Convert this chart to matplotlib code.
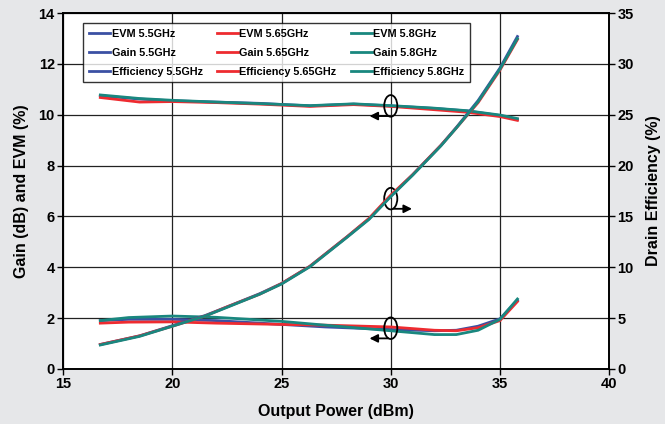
import matplotlib.pyplot as plt
from matplotlib.patches import Ellipse

plt.rcParams['font.family'] = ['Liberation Sans', 'DejaVu Sans']
plt.rcParams['font.weight'] = 'bold'

freqs = ['5.5GHz', '5.65GHz', '5.8GHz']
colors = ['#3b50a3', '#ee2b30', '#19877f']

# Gain (dB)
gain_x = [16.7, 18.5, 20, 22, 24, 26.3, 28.3, 30, 32, 33.5, 35, 35.8]
gain = [
    [10.75, 10.62, 10.55, 10.5, 10.45, 10.35, 10.42, 10.35, 10.25, 10.15, 9.97, 9.82],
    [10.68, 10.5, 10.52, 10.48, 10.42, 10.33, 10.4, 10.33, 10.2, 10.1, 9.93, 9.78],
    [10.78, 10.64, 10.57, 10.5, 10.44, 10.36, 10.43, 10.36, 10.26, 10.16, 9.99, 9.85],
]

# EVM (%)
evm_x = [16.7, 18, 20, 22, 25, 27, 30, 32, 33, 34, 35, 35.8]
evm = [
    [1.9, 1.95, 1.95, 1.9, 1.75, 1.65, 1.55, 1.5, 1.52, 1.68, 1.97, 2.7],
    [1.8, 1.84, 1.85, 1.8, 1.75, 1.72, 1.65, 1.52, 1.5, 1.62, 1.9, 2.65],
    [1.9, 2.02, 2.08, 2.03, 1.87, 1.72, 1.5, 1.35, 1.35, 1.52, 1.95, 2.75],
]

# Drain efficiency (%)
eff_x = [16.7, 18.5, 20, 21.5, 22.5, 24, 25, 26.3, 28, 29, 30, 31, 32.3, 33, 34, 35, 35.8]
eff = [
    [2.4, 3.25, 4.25, 5.25, 6.1, 7.4, 8.4, 10.1, 13.0, 14.75, 17.0, 19.1, 22.0, 23.75, 26.4, 29.6, 32.7],
    [2.4, 3.25, 4.2, 5.2, 6.1, 7.35, 8.4, 10.1, 13.0, 14.8, 17.1, 19.1, 22.0, 23.7, 26.2, 29.4, 32.4],
    [2.35, 3.2, 4.2, 5.2, 6.05, 7.35, 8.35, 10.05, 12.95, 14.7, 16.95, 19.05, 21.95, 23.7, 26.3, 29.5, 32.5],
]

fig = plt.figure(figsize=(6.65, 4.24), dpi=100)
fig.patch.set_facecolor('#e6e7e9')
ax = fig.add_axes([0.095, 0.13, 0.821, 0.839])
ax.set_facecolor('white')
ax2 = ax.twinx()

handles = []
for i, f in enumerate(freqs):
    h1, = ax.plot(evm_x, evm[i], color=colors[i], lw=2, label='EVM ' + f)
    h2, = ax.plot(gain_x, gain[i], color=colors[i], lw=2, label='Gain ' + f)
    h3, = ax2.plot(eff_x, eff[i], color=colors[i], lw=2, label='Efficiency ' + f)
    handles += [h1, h2, h3]

ax.set_xlim(15, 40)
ax.set_ylim(0, 14)
ax2.set_ylim(0, 35)
ax.set_xticks(range(15, 41, 5))
ax.set_yticks(range(0, 15, 2))
ax2.set_yticks(range(0, 36, 5))
ax.grid(True, color='#222222', lw=0.9)
ax.set_axisbelow(True)
for a in (ax, ax2):
    a.tick_params(labelsize=10.5, length=4, width=1, pad=2)
    for s in a.spines.values():
        s.set_linewidth(1.2)

ax.set_xlabel('Output Power (dBm)', fontsize=11.5, fontweight='bold', labelpad=9)
ax.set_ylabel('Gain (dB) and EVM (%)', fontsize=11.5, fontweight='bold', labelpad=7)
ax2.set_ylabel('Drain Efficiency (%)', fontsize=11.5, fontweight='bold', labelpad=9)

# ellipse markers with arrows
for yc, direction in [(10.35, -1), (6.7, 1), (1.6, -1)]:
    ax.add_patch(Ellipse((30, yc), 0.6, 0.85, fill=False, ec='black', lw=1.3, zorder=5))
    ybase = yc - 0.4
    ax.annotate('', xy=(30 + direction * 1.1, ybase), xytext=(30, ybase),
                arrowprops=dict(arrowstyle='-|>', color='black', lw=1.3, mutation_scale=12),
                zorder=5)

leg = ax2.legend(handles=handles, ncol=3, loc='upper left', bbox_to_anchor=(0.037, 0.972),
                 borderaxespad=0, fontsize=7.8, frameon=True, fancybox=False,
                 edgecolor='black', handlelength=2.0, handletextpad=0.1,
                 columnspacing=1.3, labelspacing=0.85, borderpad=0.5)
leg.get_frame().set_linewidth(1.0)
for t in leg.get_texts():
    t.set_fontweight('bold')

fig.savefig('out.png', dpi=100, facecolor=fig.get_facecolor())
